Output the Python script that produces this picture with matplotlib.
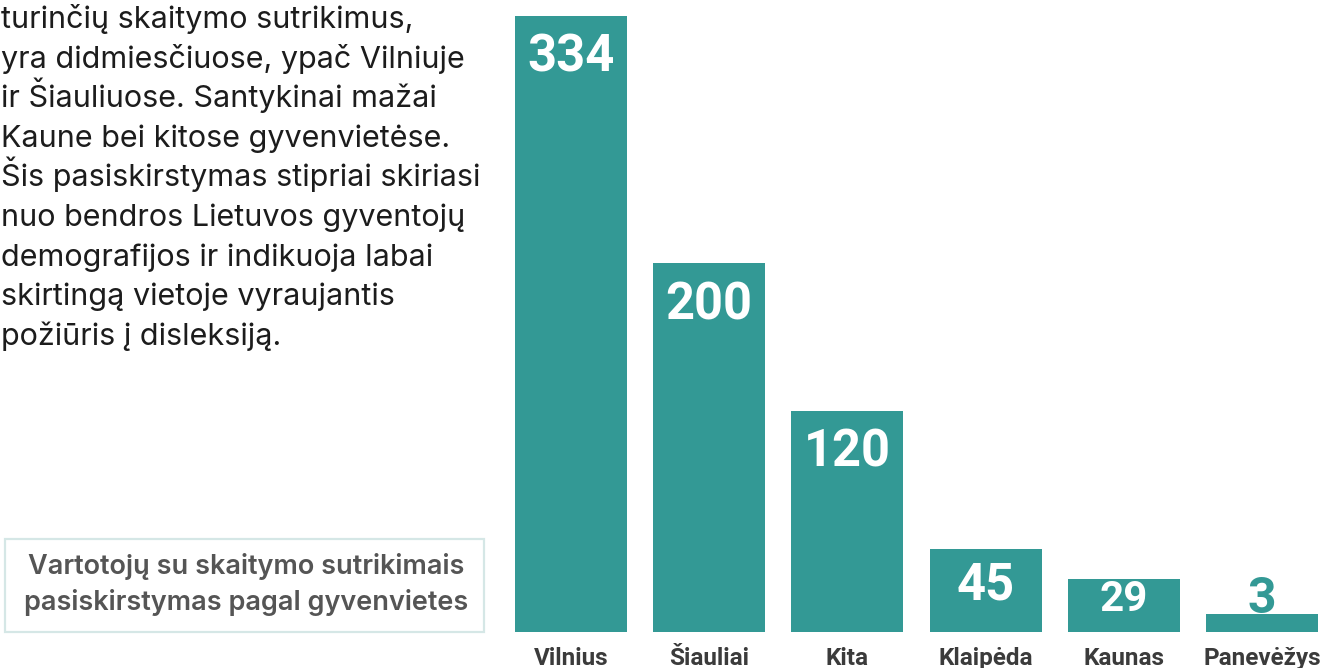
import matplotlib
matplotlib.use("Agg")
import matplotlib.pyplot as plt
from matplotlib.patches import Rectangle

plt.rcParams['font.family'] = ['Inter', 'DejaVu Sans']

# data
cities = ['Vilnius', 'Šiauliai', 'Kita', 'Klaipėda', 'Kaunas', 'Panevėžys']
users = [334, 200, 120, 45, 29, 3]

intro_lines = [
    'turinčių skaitymo sutrikimus,',
    'yra didmiesčiuose, ypač Vilniuje',
    'ir Šiauliuose. Santykinai mažai',
    'Kaune bei kitose gyvenvietėse.',
    'Šis pasiskirstymas stipriai skiriasi',
    'nuo bendros Lietuvos gyventojų',
    'demografijos ir indikuoja labai',
    'skirtingą vietoje vyraujantis',
    'požiūris į disleksiją.',
]
box_lines = ['Vartotojų su skaitymo sutrikimais',
             'pasiskirstymas pagal gyvenvietes']

TEAL = '#339995'
W, H = 1322, 668


def fx(px):
    return px / W


def fy(py):
    # pixel from top -> figure fraction
    return (H - py) / H


fig = plt.figure(figsize=(W / 100, H / 100), dpi=100)
fig.patch.set_facecolor('white')

# bar chart
ax = fig.add_axes([fx(515), fy(632), fx(1318 - 515), (632 - 16) / H])
min_h = 10  # smallest visible bar
heights = [max(v, min_h) for v in users]
xs = list(range(len(cities)))
ax.bar(xs, heights, width=0.81, color=TEAL)
ax.set_xlim(-0.405, len(cities) - 1 + 0.405)
ax.set_ylim(0, max(users))
for s in ax.spines.values():
    s.set_visible(False)
ax.set_yticks([])
ax.set_xticks(xs, cities)
ax.tick_params(axis='x', length=0, pad=23.5)
for lab in ax.get_xticklabels():
    lab.set_fontsize(17.5)
    lab.set_family('Roboto')
    lab.set_fontweight('bold')
    lab.set_color('#3b3b3b')
    lab.set_va('baseline')

px_per_unit = 616 / max(users)
for x, v, h in zip(xs, users, heights):
    hp = h * px_per_unit
    if hp < 40:
        ax.annotate(str(v), (x, h), xytext=(0, 1), textcoords='offset pixels',
                    ha='center', va='baseline', fontsize=36, fontweight='bold',
                    family='Roboto', color=TEAL)
    else:
        cap = min(36, 0.56 * hp)
        off = min(56, 0.61 * hp)
        ax.annotate(str(v), (x, h), xytext=(0, -off), textcoords='offset pixels',
                    ha='center', va='baseline', fontsize=cap / 0.711 * 0.72,
                    fontweight='bold', family='Roboto', color='white')

# intro paragraph
for i, line in enumerate(intro_lines):
    fig.text(fx(1), fy(28 + i * 39.6), line, fontsize=22, color='#1c1c1c',
             ha='left', va='baseline')

# title box
fig.patches.append(Rectangle((fx(5), fy(632)), fx(479), 93 / H,
                             transform=fig.transFigure, fill=False,
                             edgecolor='#d5e7e6', linewidth=1.6))
for i, line in enumerate(box_lines):
    fig.text(fx(246), fy(574 + i * 36), line, fontsize=19.5, fontweight='semibold',
             color='#555555', ha='center', va='baseline')

fig.savefig('out.png', dpi=100, facecolor='white')
